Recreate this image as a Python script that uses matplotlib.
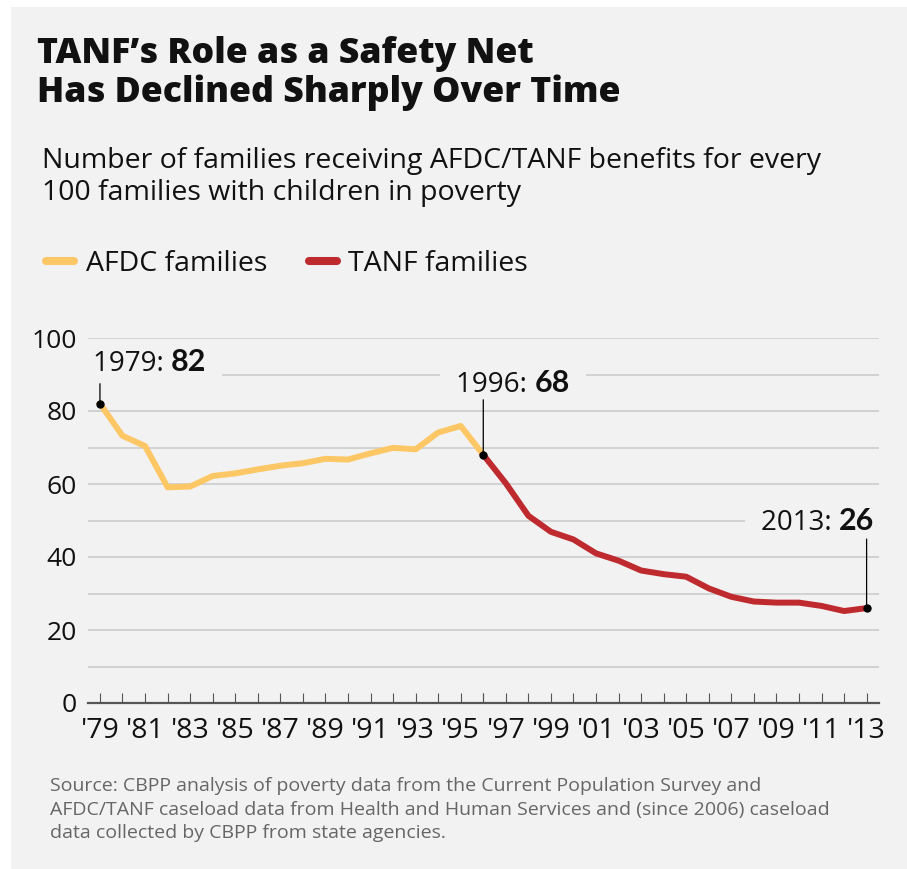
"""AFDC/TANF families per 100 poor families with children, 1979-2013."""

import matplotlib

matplotlib.use("Agg")
import matplotlib.pyplot as plt
from matplotlib.lines import Line2D
from matplotlib.patches import Rectangle
from matplotlib.transforms import Bbox, IdentityTransform
from matplotlib.ticker import FixedLocator

# --- data -------------------------------------------------------------
afdc_years = [1979, 1980, 1981, 1982, 1983, 1984, 1985, 1986, 1987,
              1988, 1989, 1990, 1991, 1992, 1993, 1994, 1995, 1996]
afdc_values = [82, 73.2, 70.4, 59.1, 59.3, 62.2, 62.9, 64.0, 65.0,
               65.7, 66.9, 66.7, 68.4, 69.9, 69.5, 74.1, 75.9, 68]

tanf_years = [1996, 1997, 1998, 1999, 2000, 2001, 2002, 2003, 2004,
              2005, 2006, 2007, 2008, 2009, 2010, 2011, 2012, 2013]
tanf_values = [68, 60.2, 51.3, 46.9, 44.8, 41.0, 39.0, 36.3, 35.3,
               34.6, 31.4, 29.1, 27.8, 27.5, 27.5, 26.6, 25.2, 26]

labeled_years = [1979, 1996, 2013]
tick_years = [1979, 1981, 1983, 1985, 1987, 1989, 1991, 1993, 1995,
              1997, 1999, 2001, 2003, 2005, 2007, 2009, 2011, 2013]
y_ticks = [0, 20, 40, 60, 80, 100]

title_lines = ["TANF’s Role as a Safety Net", "Has Declined Sharply Over Time"]
subtitle_lines = ["Number of families receiving AFDC/TANF benefits for every",
                  "100 families with children in poverty"]
source_lines = [
    "Source: CBPP analysis of poverty data from the Current Population Survey and",
    "AFDC/TANF caseload data from Health and Human Services and (since 2006) caseload",
    "data collected by CBPP from state agencies.",
]

# --- style ------------------------------------------------------------
W, H = 907, 869
BG = "#f2f2f2"
AFDC_COLOR = "#fdc765"
TANF_COLOR = "#bf2a2e"
TEXT = "#111111"
SANS = ["Open Sans", "DejaVu Sans"]
HEAVY = ["Lato", "DejaVu Sans"]


def fx(px):
    return px / W


def fy(px):
    return 1 - px / H


fig = plt.figure(figsize=(W / 100, H / 100), dpi=100, facecolor="white")
fig.patches.append(Rectangle((fx(11), 0), 1 - fx(11), fy(7), transform=fig.transFigure,
                             facecolor=BG, edgecolor="none", zorder=-10))

for text, base in zip(title_lines, [63, 102]):
    fig.text(fx(37), fy(base), text, family=SANS, weight="heavy", fontsize=25.7,
             color=TEXT, va="baseline")
for text, base in zip(subtitle_lines, [168, 200]):
    fig.text(fx(42), fy(base), text, family=SANS, fontsize=20.5, color=TEXT, va="baseline")
for text, base in zip(source_lines, [791, 815, 838]):
    fig.text(fx(50), fy(base), text, family=SANS, fontsize=14, color="#666666", va="baseline")

ax = fig.add_axes([fx(88), fy(703), fx(879) - fx(88), (703 - 338) / H])
ax.set_facecolor("none")
ax.set_xlim(1978.47, 2013.55)
ax.set_ylim(0, 100)

ax.plot(afdc_years, afdc_values, color=AFDC_COLOR, lw=4.3, zorder=3)
ax.plot(tanf_years, tanf_values, color=TANF_COLOR, lw=4.3, zorder=3)

# grid every 10, labels every 20
ax.yaxis.set_major_locator(FixedLocator(y_ticks))
ax.yaxis.set_minor_locator(FixedLocator([10, 30, 50, 70, 90]))
ax.set_yticklabels([str(v) for v in y_ticks], family=SANS, fontsize=19, color=TEXT)
ax.tick_params(axis="y", which="both", length=0, pad=8)
ax.grid(axis="y", which="both", color="#c9c9c9", lw=1.1)
ax.set_axisbelow(True)

ax.xaxis.set_major_locator(FixedLocator(tick_years))
ax.xaxis.set_minor_locator(FixedLocator([y for y in afdc_years + tanf_years
                                         if y not in tick_years]))
ax.set_xticklabels(["'" + str(y)[2:] for y in tick_years], family=SANS, fontsize=20.5,
                   color=TEXT)
ax.tick_params(axis="x", which="both", direction="in", length=7, width=0.8,
               color="#555555", pad=10)

for side in ["top", "right", "left"]:
    ax.spines[side].set_visible(False)
ax.spines["bottom"].set_color("#555555")
ax.spines["bottom"].set_linewidth(1.6)

# callouts: label left/right edge offset, alignment, baseline height, leader height (pixels)
callout_style = {1979: (-7, "left", 33, 20), 1996: (-27, "left", 63, 55), 2013: (8, "right", 78, 69)}
all_points = dict(zip(afdc_years + tanf_years, afdc_values + tanf_values))

fig.canvas.draw()
renderer = fig.canvas.get_renderer()
for year in labeled_years:
    value = all_points[year]
    dx, align, base, lead = callout_style[year]
    ax.plot([year], [value], "o", color="black", ms=5, zorder=5)
    ax.annotate("", xy=(year, value), xytext=(0, lead), textcoords="offset pixels",
                arrowprops=dict(arrowstyle="-", color="black", lw=0.9,
                                shrinkA=0, shrinkB=0), zorder=4)
    t1 = ax.annotate(f"{year}: ", xy=(year, value), xytext=(0, base),
                     textcoords="offset pixels", family=SANS, fontsize=20,
                     color=TEXT, va="baseline", ha="left", zorder=6)
    t2 = ax.annotate(f"{value:g}", xy=(year, value), xytext=(0, base),
                     textcoords="offset pixels", family=HEAVY, weight="bold",
                     fontsize=22, color=TEXT, va="baseline", ha="left", zorder=6)
    w1 = t1.get_window_extent(renderer).width
    w2 = t2.get_window_extent(renderer).width
    left = dx if align == "left" else dx - w1 - w2
    t1.set_position((left, base))
    t2.set_position((left + w1, base))
    fig.canvas.draw()
    box = Bbox.union([t1.get_window_extent(renderer), t2.get_window_extent(renderer)])
    ax.add_patch(Rectangle((box.x0 - 16, box.y0 + 2), box.width + 32, box.height - 4,
                           transform=IdentityTransform(), facecolor=BG,
                           edgecolor="none", zorder=1.5))

handles = [Line2D([], [], color=AFDC_COLOR, lw=5.8, solid_capstyle="round"),
           Line2D([], [], color=TANF_COLOR, lw=5.8, solid_capstyle="round")]
fig.legend(handles, ["AFDC families", "TANF families"], loc="center left",
           bbox_to_anchor=(fx(46), fy(264)), ncol=2, frameon=False,
           prop=dict(family=SANS, size=20.5), handlelength=1.0, handletextpad=0.4,
           columnspacing=1.45, borderpad=0, borderaxespad=0, labelcolor=TEXT)

fig.savefig("out.png", dpi=100, facecolor=fig.get_facecolor())
